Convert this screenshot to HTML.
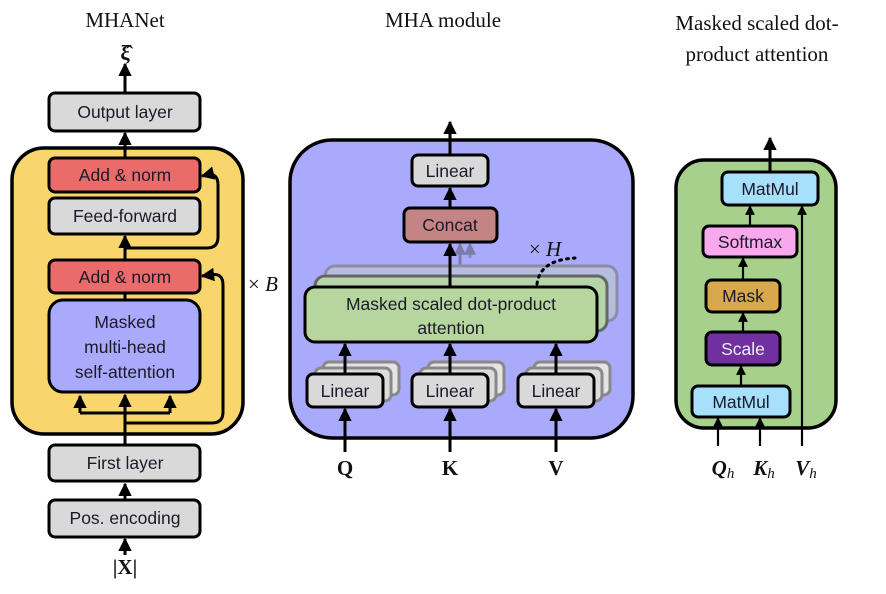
<!DOCTYPE html>
<html><head><meta charset="utf-8"><style>
body{margin:0;background:#fff;}
svg{display:block;font-family:"Liberation Sans",sans-serif;}
.t{font-size:17.5px;fill:#1a1a2a;text-anchor:middle;}
.s{font-family:"Liberation Serif",serif;font-size:21px;fill:#111;text-anchor:middle;}
</style></head><body>
<svg width="886" height="594" viewBox="0 0 886 594" xmlns="http://www.w3.org/2000/svg">
<defs>
<marker id="a" viewBox="0 0 10 10" refX="9" refY="5" markerWidth="4.5" markerHeight="4.5" orient="auto-start-reverse"><path d="M0,0L10,5L0,10z" fill="#000"/></marker>
<marker id="b" viewBox="0 0 10 10" refX="9" refY="5" markerWidth="4" markerHeight="4" orient="auto"><path d="M0,0L10,5L0,10z" fill="#7b7ba8"/></marker>
</defs>
<g stroke="#000" stroke-width="3" fill="none">
<!-- LEFT -->
<rect x="12" y="148" width="231" height="286" rx="32" fill="#f9d66c" stroke-width="3.5"/>
<line x1="125" y1="92" x2="125" y2="64" marker-end="url(#a)"/>
<line x1="125" y1="158" x2="125" y2="133" marker-end="url(#a)"/>
<line x1="125" y1="260" x2="125" y2="236" marker-end="url(#a)"/>
<line x1="125" y1="500" x2="125" y2="484" marker-end="url(#a)"/>
<line x1="125" y1="555" x2="125" y2="539" marker-end="url(#a)"/>
<path d="M125,423 H212 Q223,423 223,412 V285 Q223,272 210,275 L202,276" marker-end="url(#a)"/>
<path d="M125,248 H207 Q218,248 218,237 V185 Q218,172 206,175 L202,176" marker-end="url(#a)"/>
<rect x="49" y="93" width="151" height="38" rx="6" fill="#d9d9d9"/>
<rect x="49" y="158" width="151" height="34" rx="6" fill="#eb6b6b"/>
<rect x="49" y="198" width="151" height="36" rx="6" fill="#d9d9d9"/>
<rect x="49" y="260" width="151" height="33" rx="6" fill="#eb6b6b"/>
<rect x="49" y="300" width="151" height="92" rx="14" fill="#aaaafc"/>
<rect x="49" y="445" width="151" height="36" rx="6" fill="#d9d9d9"/>
<rect x="49" y="500" width="151" height="37" rx="6" fill="#d9d9d9"/>
<line x1="125" y1="445" x2="125" y2="395" marker-end="url(#a)"/>
<path d="M80,413 L80,396" marker-end="url(#a)"/>
<path d="M170,413 L170,396" marker-end="url(#a)"/>
<path d="M80,413 H170"/>
<line x1="125" y1="293" x2="125" y2="300"/>
<!-- MIDDLE -->
<rect x="290" y="140" width="343" height="298" rx="42" fill="#aaaafc" stroke-width="3.5"/>
<line x1="450" y1="155" x2="450" y2="122" marker-end="url(#a)"/>
<line x1="450" y1="208" x2="450" y2="188" marker-end="url(#a)"/>
<line x1="460" y1="268" x2="460" y2="244" stroke="#7b7ba8" marker-end="url(#b)"/>
<line x1="470" y1="258" x2="470" y2="244" stroke="#8a8ab8" marker-end="url(#b)"/>
<rect x="325" y="266" width="292" height="55" rx="10" fill="#b6bedd" stroke="#8c8ca8"/>
<rect x="315" y="276" width="292" height="55" rx="10" fill="#b7d3a8" stroke="#666"/>
<line x1="450" y1="287" x2="450" y2="244" marker-end="url(#a)"/>
<rect x="305" y="287" width="292" height="55" rx="10" fill="#b7d69d"/>
<rect x="412" y="155" width="76" height="31" rx="6" fill="#d9d9d9"/>
<rect x="404" y="208" width="93" height="34" rx="6" fill="#c48484"/>
<g stroke="#888"><rect x="323" y="362" width="76" height="33" rx="6" fill="#e4e4e4"/><rect x="315" y="368" width="76" height="33" rx="6" fill="#dcdcdc"/>
<rect x="428" y="362" width="76" height="33" rx="6" fill="#e4e4e4"/><rect x="420" y="368" width="76" height="33" rx="6" fill="#dcdcdc"/>
<rect x="534" y="362" width="76" height="33" rx="6" fill="#e4e4e4"/><rect x="526" y="368" width="76" height="33" rx="6" fill="#dcdcdc"/></g>
<rect x="307" y="374" width="76" height="33" rx="6" fill="#d9d9d9"/>
<rect x="412" y="374" width="76" height="33" rx="6" fill="#d9d9d9"/>
<rect x="518" y="374" width="76" height="33" rx="6" fill="#d9d9d9"/>
<line x1="345" y1="374" x2="345" y2="344" marker-end="url(#a)"/>
<line x1="450" y1="374" x2="450" y2="344" marker-end="url(#a)"/>
<line x1="556" y1="374" x2="556" y2="344" marker-end="url(#a)"/>
<line x1="345" y1="452" x2="345" y2="409" marker-end="url(#a)"/>
<line x1="450" y1="452" x2="450" y2="409" marker-end="url(#a)"/>
<line x1="556" y1="452" x2="556" y2="409" marker-end="url(#a)"/>
<path d="M537,284 Q540,260 575,258" stroke-dasharray="2 5" stroke-linecap="round"/>
<!-- RIGHT -->
<rect x="676" y="160" width="160" height="268" rx="28" fill="#a8d08d" stroke-width="3.5"/>
<line x1="770" y1="172" x2="770" y2="138" marker-end="url(#a)"/>
<line x1="750" y1="226" x2="750" y2="206" stroke-width="2.2" marker-end="url(#a)"/>
<line x1="743" y1="280" x2="743" y2="258" stroke-width="2.2" marker-end="url(#a)"/>
<line x1="743" y1="332" x2="743" y2="313" stroke-width="2.2" marker-end="url(#a)"/>
<line x1="741" y1="386" x2="741" y2="366" stroke-width="2.2" marker-end="url(#a)"/>
<line x1="718" y1="446" x2="718" y2="418" stroke-width="2.2" marker-end="url(#a)"/>
<line x1="760" y1="446" x2="760" y2="418" stroke-width="2.2" marker-end="url(#a)"/>
<line x1="802" y1="446" x2="802" y2="206" stroke-width="2.2" marker-end="url(#a)"/>
<rect x="722" y="172" width="96" height="33" rx="6" fill="#a6e0fa"/>
<rect x="703" y="226" width="94" height="31" rx="6" fill="#f8a8ec"/>
<rect x="706" y="280" width="74" height="32" rx="6" fill="#d8a84c"/>
<rect x="706" y="332" width="74" height="33" rx="6" fill="#7030a0"/>
<rect x="692" y="386" width="98" height="31" rx="6" fill="#a6e0fa"/>
</g>
<text class="s" x="125" y="27">MHANet</text>
<text class="s" x="125" y="60" font-weight="bold">ξ̂</text>
<text class="s" x="443" y="27">MHA module</text>
<text class="s" x="757" y="30">Masked scaled dot-</text>
<text class="s" x="757" y="61">product attention</text>
<text class="s" x="263" y="291" font-size="16"><tspan>× </tspan><tspan font-style="italic">B</tspan></text>
<text class="s" x="545" y="256" font-size="16"><tspan>× </tspan><tspan font-style="italic">H</tspan></text>
<text class="s" x="125" y="574" font-weight="bold">|X|</text>
<text class="s" x="345" y="475" font-weight="bold">Q</text>
<text class="s" x="450" y="475" font-weight="bold">K</text>
<text class="s" x="556" y="475" font-weight="bold">V</text>
<text class="s" x="723" y="475" font-style="italic" font-weight="bold" font-size="23">Q<tspan font-size="15" dy="3" font-weight="normal">h</tspan></text>
<text class="s" x="764" y="475" font-style="italic" font-weight="bold" font-size="23">K<tspan font-size="15" dy="3" font-weight="normal">h</tspan></text>
<text class="s" x="806" y="475" font-style="italic" font-weight="bold" font-size="23">V<tspan font-size="15" dy="3" font-weight="normal">h</tspan></text>
<text class="t" x="125" y="118">Output layer</text>
<text class="t" x="125" y="181">Add &amp; norm</text>
<text class="t" x="125" y="222">Feed-forward</text>
<text class="t" x="125" y="283">Add &amp; norm</text>
<text class="t" x="125" y="328">Masked</text>
<text class="t" x="125" y="353">multi-head</text>
<text class="t" x="125" y="378">self-attention</text>
<text class="t" x="125" y="469">First layer</text>
<text class="t" x="125" y="524">Pos. encoding</text>
<text class="t" x="450" y="177">Linear</text>
<text class="t" x="450" y="231">Concat</text>
<text class="t" x="451" y="310">Masked scaled dot-product</text>
<text class="t" x="451" y="334">attention</text>
<text class="t" x="345" y="397">Linear</text>
<text class="t" x="450" y="397">Linear</text>
<text class="t" x="556" y="397">Linear</text>
<text class="t" x="770" y="195">MatMul</text>
<text class="t" x="750" y="248">Softmax</text>
<text class="t" x="743" y="302">Mask</text>
<text class="t" x="743" y="355" style="fill:#eee">Scale</text>
<text class="t" x="741" y="408">MatMul</text>
</svg>
</body></html>
